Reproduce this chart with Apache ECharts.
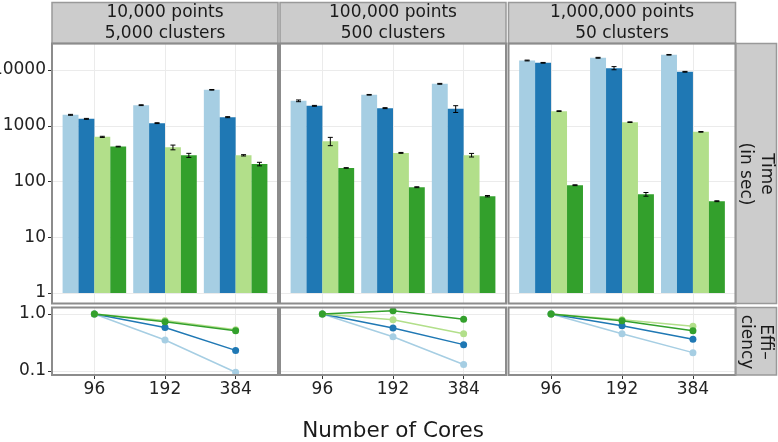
<!DOCTYPE html>
<html><head><meta charset="utf-8">
<script src="https://cdn.jsdelivr.net/npm/echarts@6/dist/echarts.min.js"></script>
<style>html,body{margin:0;padding:0;background:#fff}#c{width:778px;height:442px}</style>
</head><body><div id="c"></div>
<script>
// ---------------- data ----------------
const cores = ['96', '192', '384'];
const panelTitles = ['10,000 points\n5,000 clusters', '100,000 points\n500 clusters', '1,000,000 points\n50 clusters'];
const seriesNames = ['Variant 1', 'Variant 2', 'Variant 3', 'Variant 4'];
const timeTickLabels = ['1', '10', '100', '1000', '10000'];
const effTickLabels = ['0.1', '1.0'];
const xTitle = 'Number of Cores';
const timeStrip = 'Time\n(in sec)';
const effStrip = 'Effi\u2013\nciency';

// Time (seconds) per core count, one array per panel and variant
const time10k_1 = [1570, 2340, 4410];
const time10k_2 = [1330, 1114, 1426];
const time10k_3 = [632, 410, 295];
const time10k_4 = [423, 295, 206];
const time100k_1 = [2800, 3590, 5650];
const time100k_2 = [2277, 2070, 2010];
const time100k_3 = [529, 326, 297];
const time100k_4 = [175, 79, 54.5];
const time1m_1 = [14800, 16560, 18740];
const time1m_2 = [13460, 10800, 9290];
const time1m_3 = [1828, 1160, 777];
const time1m_4 = [85.8, 59, 44.3];

// Error (+/- seconds)
const err10k_1 = [30, 40, 60];
const err10k_2 = [25, 20, 30];
const err10k_3 = [15, 40, 8];
const err10k_4 = [6, 25, 15];
const err100k_1 = [100, 50, 100];
const err100k_2 = [40, 40, 280];
const err100k_3 = [90, 6, 22];
const err100k_4 = [2, 1.5, 1.5];
const err1m_1 = [250, 300, 250];
const err1m_2 = [200, 700, 150];
const err1m_3 = [30, 15, 10];
const err1m_4 = [1.5, 4.5, 0.8];

// Efficiency
const eff10k_1 = [1.0, 0.35, 0.095];
const eff10k_2 = [1.0, 0.58, 0.23];
const eff10k_3 = [1.0, 0.77, 0.53];
const eff10k_4 = [1.0, 0.73, 0.51];
const eff100k_1 = [1.0, 0.40, 0.13];
const eff100k_2 = [1.0, 0.57, 0.29];
const eff100k_3 = [1.0, 0.79, 0.45];
const eff100k_4 = [1.0, 1.14, 0.81];
const eff1m_1 = [1.0, 0.45, 0.21];
const eff1m_2 = [1.0, 0.62, 0.36];
const eff1m_3 = [1.0, 0.79, 0.61];
const eff1m_4 = [1.0, 0.76, 0.51];

const timeData = [[time10k_1, time10k_2, time10k_3, time10k_4], [time100k_1, time100k_2, time100k_3, time100k_4], [time1m_1, time1m_2, time1m_3, time1m_4]];
const errData = [[err10k_1, err10k_2, err10k_3, err10k_4], [err100k_1, err100k_2, err100k_3, err100k_4], [err1m_1, err1m_2, err1m_3, err1m_4]];
const effData = [[eff10k_1, eff10k_2, eff10k_3, eff10k_4], [eff100k_1, eff100k_2, eff100k_3, eff100k_4], [eff1m_1, eff1m_2, eff1m_3, eff1m_4]];

// ---------------- styles / layout ----------------
const colors = ['#A6CEE3', '#1F78B4', '#B2DF8A', '#33A02C'];
const FONT = 'DejaVu Sans';
const TXT = '#1A1A1A';
const PX = [52, 280, 508.5];
const PW = [226, 226, 227];
// top row: value 10000 at y=70, value 1 at y=293; panel spans 44..303.5
const T_TOP = 44, T_BOT = 303.5, T_Y4 = 70, T_Y0 = 293;
const T_DEC = (T_Y0 - T_Y4) / 4;
// bottom row: 1.0 at y=314, 0.1 at y=371; panel spans 308..375
const E_TOP = 308, E_BOT = 375, E_Y0 = 314, E_YM1 = 371;
const E_DEC = E_YM1 - E_Y0;
const gridLine = { color: '#EBEBEB', width: 1 };

const grids = [], xAxes = [], yAxes = [], series = [];
function addGrid(g, x, y) {
  const gi = grids.length;
  grids.push(Object.assign({ containLabel: false, outerBoundsMode: 'none' }, g));
  xAxes.push(Object.assign({ gridIndex: gi }, x));
  yAxes.push(Object.assign({ gridIndex: gi }, y));
  return gi;
}

function renderErr(params, api) {
  const ci = api.value(0), lo = api.value(1), hi = api.value(2), k = api.value(3);
  const p0 = api.coord([ci, lo]), p1 = api.coord([ci, hi]);
  const band = api.coord([1, hi])[0] - api.coord([0, hi])[0];
  const bw = band * 0.9 / 4;
  const x = p0[0] + (k - 1.5) * bw;
  const cw = 2.5;
  const st = { stroke: '#000', lineWidth: 1 };
  return { type: 'group', children: [
    { type: 'line', shape: { x1: x, y1: p0[1], x2: x, y2: p1[1] }, style: st },
    { type: 'line', shape: { x1: x - cw, y1: p0[1], x2: x + cw, y2: p0[1] }, style: st },
    { type: 'line', shape: { x1: x - cw, y1: p1[1], x2: x + cw, y2: p1[1] }, style: st }
  ] };
}

const labelStyle = { fontFamily: FONT, fontSize: 17, color: '#222' };

for (let p = 0; p < 3; p++) {
  const L = PX[p], W = PW[p], u = W / 3.2;
  // ---- top row ----
  addGrid({ left: L, top: T_Y4, width: W, height: T_Y0 - T_Y4 },
    { type: 'value', min: 0, max: 1, show: false },
    { type: 'log', logBase: 10, min: 1, max: 10000,
      axisLine: { show: false },
      axisTick: { show: p === 0, length: 4, lineStyle: { color: '#333' } },
      axisLabel: Object.assign({ show: p === 0, margin: 6, hideOverlap: false,
        formatter: v => timeTickLabels[Math.round(Math.log10(v))] }, labelStyle),
      splitLine: { show: true, lineStyle: gridLine } });
  addGrid({ left: L + 0.6 * u, top: T_TOP, width: 2 * u, height: T_BOT - T_TOP },
    { type: 'value', min: 1, max: 3, interval: 1, axisLine: { show: false }, axisTick: { show: false },
      axisLabel: { show: false }, splitLine: { show: true, lineStyle: gridLine } },
    { type: 'value', min: 0, max: 1, show: false });
  const gb = addGrid({ left: L + 0.1 * u, top: T_TOP, width: 3 * u, height: T_BOT - T_TOP },
    { type: 'category', data: cores, show: false },
    { type: 'log', logBase: 10, show: false,
      min: Math.pow(10, -(T_BOT - T_Y0) / T_DEC), max: Math.pow(10, 4 + (T_Y4 - T_TOP) / T_DEC) });
  const errItems = [];
  for (let k = 0; k < 4; k++) {
    series.push({ type: 'bar', name: seriesNames[k], xAxisIndex: gb, yAxisIndex: gb,
      data: timeData[p][k], itemStyle: { color: colors[k] },
      barGap: '0%', barCategoryGap: '10%', silent: true });
    for (let i = 0; i < 3; i++) {
      errItems.push([i, timeData[p][k][i] - errData[p][k][i], timeData[p][k][i] + errData[p][k][i], k]);
    }
  }
  series.push({ type: 'custom', xAxisIndex: gb, yAxisIndex: gb, data: errItems,
    encode: { x: 0, y: [1, 2] }, renderItem: renderErr, z: 5, silent: true, clip: false });

  // ---- bottom row ----
  addGrid({ left: L, top: E_Y0, width: W, height: E_YM1 - E_Y0 },
    { type: 'value', min: 0, max: 1, show: false },
    { type: 'log', logBase: 10, min: 0.1, max: 1,
      axisLine: { show: false },
      axisTick: { show: p === 0, length: 4, lineStyle: { color: '#333' } },
      axisLabel: Object.assign({ show: p === 0, margin: 6, hideOverlap: false,
        formatter: v => effTickLabels[Math.round(Math.log10(v)) + 1] }, labelStyle),
      splitLine: { show: true, lineStyle: gridLine } });
  addGrid({ left: L + 0.6 * u, top: E_TOP, width: 2 * u, height: E_BOT - E_TOP },
    { type: 'value', min: 1, max: 3, interval: 1, axisLine: { show: false }, axisTick: { show: false },
      axisLabel: { show: false }, splitLine: { show: true, lineStyle: gridLine } },
    { type: 'value', min: 0, max: 1, show: false });
  const ge = addGrid({ left: L + 0.1 * u, top: E_TOP, width: 3 * u, height: E_BOT - E_TOP },
    { type: 'category', data: cores, boundaryGap: true,
      axisLine: { show: false },
      axisTick: { show: true, alignWithLabel: true, length: 4, lineStyle: { color: '#333' } },
      axisLabel: Object.assign({ margin: 6 }, labelStyle),
      splitLine: { show: false } },
    { type: 'log', logBase: 10, show: false,
      min: Math.pow(10, -1 - (E_BOT - E_YM1) / E_DEC), max: Math.pow(10, (E_Y0 - E_TOP) / E_DEC) });
  for (let k = 0; k < 4; k++) {
    series.push({ type: 'line', name: seriesNames[k], xAxisIndex: ge, yAxisIndex: ge,
      data: effData[p][k], color: colors[k], symbol: 'circle', symbolSize: 7, showSymbol: true,
      lineStyle: { width: 1.5, color: colors[k] }, itemStyle: { color: colors[k] },
      clip: false, silent: true, z: 3 + k });
  }
}

// ---------------- frames and strips ----------------
const graphics = [];
const border = '#8C8C8C';
for (let p = 0; p < 3; p++) {
  const L = PX[p], W = PW[p];
  graphics.push({ type: 'rect', z: 100, shape: { x: L, y: 2.5, width: W, height: 41 },
    style: { fill: '#CCCCCC', stroke: '#999999', lineWidth: 1.5 } });
  graphics.push({ type: 'text', z: 101, x: L + W / 2, y: 23,
    style: { text: panelTitles[p], fontFamily: FONT, fontSize: 17, lineHeight: 21, fill: TXT, align: 'center', verticalAlign: 'middle' } });
  graphics.push({ type: 'rect', z: 100, shape: { x: L, y: 43.5, width: W, height: T_BOT - 43.5 },
    style: { fill: null, stroke: border, lineWidth: 2 } });
  graphics.push({ type: 'rect', z: 100, shape: { x: L, y: 307.5, width: W, height: E_BOT - 307.5 },
    style: { fill: null, stroke: border, lineWidth: 2 } });
}
graphics.push({ type: 'rect', z: 100, shape: { x: 736, y: 43.5, width: 40.5, height: T_BOT - 43.5 },
  style: { fill: '#CCCCCC', stroke: '#999999', lineWidth: 1.5 } });
graphics.push({ type: 'rect', z: 100, shape: { x: 736, y: 307.5, width: 40.5, height: E_BOT - 307.5 },
  style: { fill: '#CCCCCC', stroke: '#999999', lineWidth: 1.5 } });
graphics.push({ type: 'text', z: 101, x: 756, y: 174, rotation: -Math.PI / 2,
  style: { text: timeStrip, fontFamily: FONT, fontSize: 17, lineHeight: 21, fill: TXT, align: 'center', verticalAlign: 'middle' } });
graphics.push({ type: 'text', z: 101, x: 756, y: 342, rotation: -Math.PI / 2,
  style: { text: effStrip, fontFamily: FONT, fontSize: 17, lineHeight: 19, fill: TXT, align: 'center', verticalAlign: 'middle' } });
graphics.push({ type: 'text', z: 101, x: 393, y: 431,
  style: { text: xTitle, fontFamily: FONT, fontSize: 21.5, fill: TXT, align: 'center', verticalAlign: 'middle' } });

const chart = echarts.init(document.getElementById('c'), null, { renderer: 'canvas' });
chart.setOption({
  animation: false,
  backgroundColor: '#fff',
  grid: grids, xAxis: xAxes, yAxis: yAxes, series: series,
  graphic: graphics
});
</script></body></html>
